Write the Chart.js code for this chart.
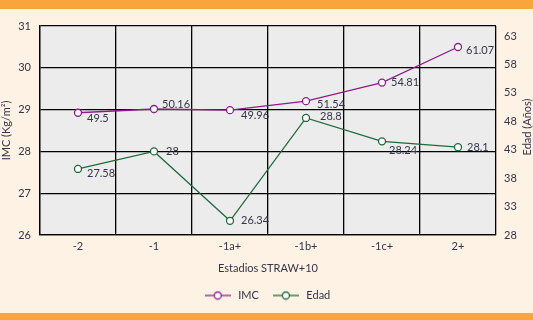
<!DOCTYPE html>
<html>
<head>
<meta charset="utf-8">
<script src="https://cdn.jsdelivr.net/npm/chart.js@4.4.0/dist/chart.umd.min.js"></script>
<style>
    html, body { margin: 0; padding: 0; }
    body { width: 533px; height: 320px; background: #fef2e4; overflow: hidden; }
    .frame { border-top: 9px solid #f8a63b; border-bottom: 7px solid #f8a63b; height: 304px; }
    .frame canvas { display: block; }
</style>
</head>
<body>
<div class="frame">
    <canvas id="chart" width="533" height="304"></canvas>
</div>
<script>
// Chart data
const categories = ['-2', '-1', '-1a+', '-1b+', '-1c+', '2+'];
const imcValues = [49.5, 50.16, 49.96, 51.54, 54.81, 61.07];
const edadValues = [27.58, 28, 26.34, 28.8, 28.24, 28.1];
const leftTicks = [26, 27, 28, 29, 30, 31];
const rightTicks = [28, 33, 38, 43, 48, 53, 58, 63];

const TEXT_COLOR = '#34344a';
const PURPLE = '#8e1c8c';
const GREEN = '#1d6a3c';
const FONT = 'Lato';

// Legend marker: short line with a hollow circle in the middle
function legendMarker(color) {
    const c = document.createElement('canvas');
    c.width = 26;
    c.height = 10;
    const ctx = c.getContext('2d');
    ctx.strokeStyle = color;
    ctx.lineWidth = 1.3;
    ctx.beginPath();
    ctx.moveTo(0, 5);
    ctx.lineTo(26, 5);
    ctx.stroke();
    ctx.beginPath();
    ctx.arc(13, 5, 3.5, 0, Math.PI * 2);
    ctx.fillStyle = '#ffffff';
    ctx.fill();
    ctx.stroke();
    return c;
}

// Grey plot background
const plotBackground = {
    id: 'plotBackground',
    beforeDraw(chart) {
        const { ctx, chartArea } = chart;
        ctx.save();
        ctx.fillStyle = '#ececec';
        ctx.fillRect(chartArea.left, chartArea.top, chartArea.width, chartArea.height);
        ctx.restore();
    }
};

// Value labels next to each point
const valueLabels = {
    id: 'valueLabels',
    afterDatasetsDraw(chart, args, opts) {
        const { ctx } = chart;
        ctx.save();
        ctx.font = `11px ${FONT}`;
        ctx.fillStyle = TEXT_COLOR;
        ctx.textAlign = 'left';
        ctx.textBaseline = 'middle';
        chart.data.datasets.forEach((ds, i) => {
            const meta = chart.getDatasetMeta(i);
            const offsets = opts.offsets[i];
            meta.data.forEach((pt, j) => {
                const [dx, dy] = offsets[j];
                ctx.fillText(String(ds.data[j]), pt.x + dx, pt.y + dy);
            });
        });
        ctx.restore();
    }
};

// Right axis title, reading bottom to top
const rightTitle = {
    id: 'rightTitle',
    afterDraw(chart) {
        const { ctx } = chart;
        ctx.save();
        ctx.translate(527, 118);
        ctx.rotate(-Math.PI / 2);
        ctx.font = `11px ${FONT}`;
        ctx.fillStyle = TEXT_COLOR;
        ctx.textAlign = 'center';
        ctx.textBaseline = 'middle';
        ctx.fillText('Edad (Años)', 0, 0);
        ctx.restore();
    }
};

new Chart(document.getElementById('chart').getContext('2d'), {
    type: 'line',
    data: {
        labels: categories,
        datasets: [
            {
                label: 'IMC',
                data: imcValues,
                yAxisID: 'y1',
                borderColor: PURPLE,
                borderWidth: 1.3,
                pointRadius: 3.5,
                pointBorderWidth: 1.3,
                pointBackgroundColor: '#ffffff',
                pointBorderColor: PURPLE,
                pointStyle: 'circle',
                tension: 0
            },
            {
                label: 'Edad',
                data: edadValues,
                yAxisID: 'y',
                borderColor: GREEN,
                borderWidth: 1.3,
                pointRadius: 3.5,
                pointBorderWidth: 1.3,
                pointBackgroundColor: '#ffffff',
                pointBorderColor: GREEN,
                pointStyle: 'circle',
                tension: 0
            }
        ]
    },
    options: {
        animation: false,
        responsive: false,
        layout: { padding: { top: 17, left: 0, right: 0, bottom: 2 } },
        plugins: {
            legend: {
                position: 'bottom',
                labels: {
                    usePointStyle: true,
                    pointStyleWidth: 30,
                    color: TEXT_COLOR,
                    font: { family: FONT, size: 11 },
                    padding: 12,
                    generateLabels(chart) {
                        return chart.data.datasets.map((ds, i) => ({
                            text: ds.label,
                            pointStyle: legendMarker(ds.borderColor),
                            fontColor: TEXT_COLOR,
                            strokeStyle: ds.borderColor,
                            lineWidth: 0,
                            hidden: false,
                            datasetIndex: i
                        }));
                    }
                }
            },
            tooltip: { enabled: false },
            valueLabels: {
                offsets: [
                    [[9, 6], [8, -5], [11, 5], [11, 3], [9, 0], [8, 3]],
                    [[9, 4], [12, 0], [11, 0], [14, -2], [7, 9], [9, 0]]
                ]
            }
        },
        scales: {
            x: {
                offset: true,
                grid: { offset: true, color: '#000000', lineWidth: 1.3, drawTicks: false },
                border: { color: '#000000', width: 1.3 },
                ticks: { color: TEXT_COLOR, font: { family: FONT, size: 11 }, padding: 5, maxRotation: 0 },
                title: {
                    display: true,
                    text: 'Estadios STRAW+10',
                    color: TEXT_COLOR,
                    font: { family: FONT, size: 11 },
                    padding: { top: 4, bottom: 3 }
                },
                afterFit(scale) { scale.height = 43; }
            },
            y: {
                position: 'left',
                min: 26,
                max: 31,
                afterBuildTicks(scale) { scale.ticks = leftTicks.map(v => ({ value: v })); },
                grid: { color: '#000000', lineWidth: 1.3, drawTicks: false },
                border: { color: '#000000', width: 1.3 },
                ticks: { color: TEXT_COLOR, font: { family: FONT, size: 11 }, padding: 9 },
                title: {
                    display: true,
                    text: 'IMC (Kg/m²)',
                    color: TEXT_COLOR,
                    font: { family: FONT, size: 11 },
                    padding: 0
                },
                afterFit(scale) { scale.width = 40; }
            },
            y1: {
                position: 'right',
                min: 28,
                max: 64.76,
                afterBuildTicks(scale) { scale.ticks = rightTicks.map(v => ({ value: v })); },
                grid: { display: false, drawTicks: false },
                border: { display: false },
                ticks: { color: TEXT_COLOR, font: { family: FONT, size: 11 }, padding: 8 },
                afterFit(scale) { scale.width = 37; }
            }
        }
    },
    plugins: [plotBackground, valueLabels, rightTitle]
});
</script>
</body>
</html>
